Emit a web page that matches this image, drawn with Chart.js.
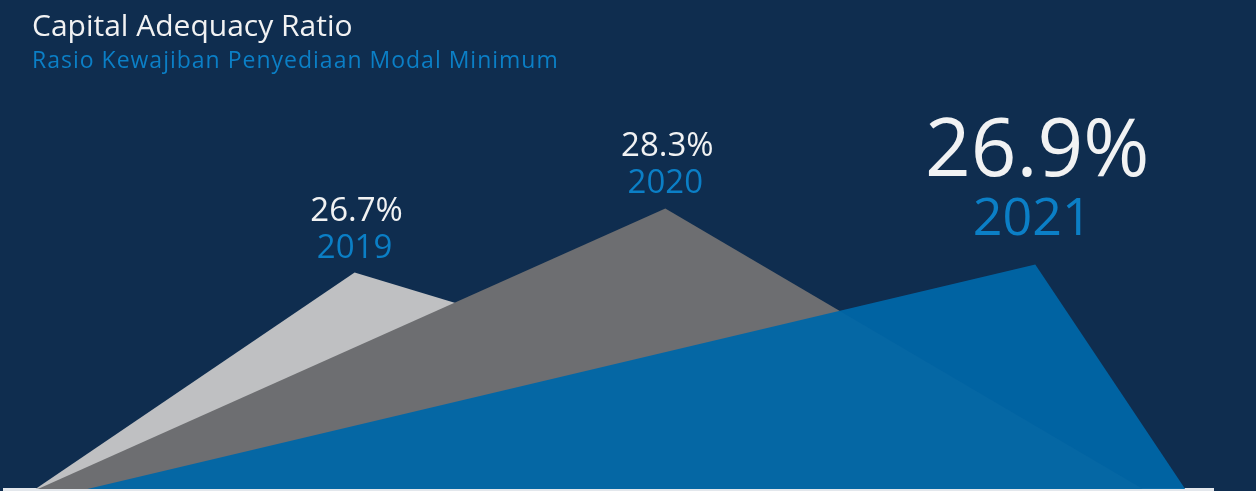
<!DOCTYPE html>
<html>
<head>
<meta charset="utf-8">
<script src="https://cdn.jsdelivr.net/npm/chart.js@4.4.1/dist/chart.umd.min.js"></script>
<style>
  html, body { margin: 0; padding: 0; background: #0f2d4f; }
  #wrap { width: 1256px; height: 491px; }
</style>
</head>
<body>
<div id="wrap"><canvas id="car" width="1256" height="491"></canvas></div>
<script>
// Capital Adequacy Ratio per year
const years = ['2019', '2020', '2021'];
const carValues = [26.7, 28.3, 26.9];
const valueLabels = ['26.7%', '28.3%', '26.9%'];

// each wedge: where it starts, peaks and ends on the x axis (0 - 100)
const wedgeStart = [2.6, 2.8, 6.9];
const wedgePeak = [29.0, 54.7, 85.3];
const wedgeEnd = [88.2, 94.2, 97.7];

const Y_MIN = 21.3;
const Y_MAX = 33.5;

const wedgeColors = ['#bfc0c2', '#6d6e71', 'rgba(0,102,167,0.95)'];

const datasets = years.map((yr, i) => ({
    label: yr,
    data: [
        { x: wedgeStart[i], y: Y_MIN },
        { x: wedgePeak[i], y: carValues[i] },
        { x: wedgeEnd[i], y: Y_MIN }
    ],
    backgroundColor: wedgeColors[i],
    borderWidth: 0,
    fill: 'start',
    order: years.length - i
}));

// -------- TEXT: title + labels above each peak --------
const textPlugin = {
    id: 'peakText',
    afterDatasetsDraw(chart) {
        const ctx = chart.ctx;
        ctx.save();

        ctx.textAlign = 'left';
        ctx.textBaseline = 'alphabetic';
        ctx.fillStyle = '#f1f2f3';
        ctx.font = '30px "Open Sans"';
        ctx.fillText('Capital Adequacy Ratio', 32, 36);
        ctx.fillStyle = '#0b7fc6';
        ctx.font = '23px "Open Sans"';
        ctx.letterSpacing = '1px';
        ctx.fillText('Rasio Kewajiban Penyediaan Modal Minimum', 32, 68);
        ctx.letterSpacing = '0px';

        ctx.textAlign = 'center';
        years.forEach((yr, i) => {
            const pt = chart.getDatasetMeta(i).data[1];
            const big = i === years.length - 1;
            ctx.fillStyle = '#f1f2f3';
            ctx.font = (big ? 80 : 33) + 'px "Open Sans"';
            ctx.fillText(valueLabels[i], pt.x + 2, pt.y - (big ? 89 : 52));
            ctx.fillStyle = '#0b7fc6';
            ctx.font = (big ? 52 : 33) + 'px "Open Sans"';
            ctx.fillText(yr, pt.x - (big ? 3 : 0), pt.y - (big ? 30 : 15));
        });
        ctx.restore();
    }
};

new Chart(document.getElementById('car').getContext('2d'), {
    type: 'line',
    data: { datasets: datasets },
    options: {
        responsive: false,
        animation: false,
        devicePixelRatio: 1,
        layout: { padding: { left: 4, right: 43, top: 0, bottom: 2 } },
        elements: {
            line: { tension: 0, borderWidth: 0 },
            point: { radius: 0, hoverRadius: 0 }
        },
        scales: {
            x: {
                type: 'linear',
                min: 0,
                max: 100,
                ticks: { display: false },
                grid: { display: false, drawTicks: false },
                border: { display: true, color: '#e3e7ec', width: 3 }
            },
            y: { min: Y_MIN, max: Y_MAX, display: false }
        },
        plugins: {
            legend: { display: false },
            tooltip: { enabled: false }
        }
    },
    plugins: [textPlugin]
});
</script>
</body>
</html>
